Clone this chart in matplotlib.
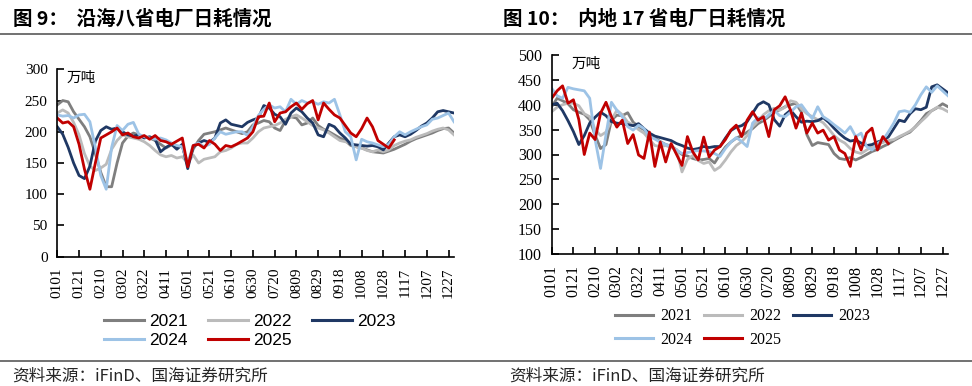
import numpy as np
import matplotlib
matplotlib.use('Agg')
import matplotlib.pyplot as plt
import pandas as pd
from matplotlib.lines import Line2D

CJK = ['Noto Sans CJK SC', 'DejaVu Sans']
plt.rcParams['font.family'] = ['Liberation Serif', 'DejaVu Sans']

years = ['2021', '2022', '2023', '2024', '2025']
colors = ['#7F7F7F', '#BBBBBB', '#1F3864', '#9DC3E6', '#C00000']
tick_labels = ['0101', '0121', '0210', '0302', '0322', '0411', '0501', '0521', '0610',
               '0630', '0720', '0809', '0829', '0918', '1008', '1028', '1117', '1207', '1227']

# sample days (day of year, 5-day spacing)
days = np.arange(0, 366, 5)

# ---- coastal eight provinces (万吨) ----
coast_2021 = [243,250,248,232,220,208,192,165,135,112, 112,150,182,193,198,195,192,190,186,180,
              174,179,176,177,147,172,186,196,198,200, 203,206,203,200,197,200,211,214,218,216,
              206,202,218,224,222,211,214,222,210,204, 200,195,190,186,178,176,174,171,168,167,
              166,169,172,176,180,185,189,192,195,198, 202,205,206,198]
coast_2022 = [230,235,230,215,195,165,145,138,142,148, 172,186,195,192,190,188,184,178,170,163,
              160,162,158,160,150,163,150,156,158,160, 168,170,174,180,182,182,190,200,206,208,
              210,214,220,224,227,222,216,210,206,203, 198,192,186,184,182,176,174,170,168,171,
              168,171,178,182,185,187,191,194,197,201, 204,206,203,195]
coast_2023 = [208,196,175,150,130,125,145,185,202,208, 204,206,200,195,193,195,190,192,188,168,
              175,180,172,180,141,176,182,186,183,190, 214,219,212,210,208,215,219,222,242,238,
              228,224,212,230,238,232,222,214,195,192, 212,208,198,190,180,179,178,177,178,176,
              171,182,192,195,192,196,202,209,214,222, 232,234,232,230]
coast_2024 = [227,225,226,222,227,228,216,175,130,108, 175,210,202,212,215,196,192,190,188,190,
              187,182,178,176,150,178,182,176,180,190, 200,196,198,200,200,194,208,226,236,243,
              238,240,232,252,244,250,246,248,244,248, 246,252,227,200,192,155,188,184,182,179,
              176,180,192,200,195,200,204,208,211,220, 222,226,230,216]
coast_2025 = [222,214,216,208,180,140,108,150,190,195, 200,206,195,198,192,190,194,188,194,186,
              184,180,185,190,144,178,180,174,186,180, 170,178,176,180,185,190,200,224,225,246,
              216,230,232,240,246,236,245,250,219,246, 236,227,222,210,198,192,205,222,208,186,
              180,174,187]

# ---- inland 17 provinces (万吨) ----
inland_2021 = [396,413,408,402,390,385,381,370,339,312, 320,369,379,378,384,365,356,350,336,333,
               326,320,317,309,300,297,292,289,290,292, 283,300,315,325,333,338,345,352,362,368,
               376,385,390,396,400,403,385,340,318,324, 322,320,302,292,290,294,289,294,300,306,
               310,316,321,328,334,340,345,356,368,382, 388,394,402,396]
inland_2022 = [386,395,400,403,403,398,382,376,350,338, 345,369,389,380,365,360,350,343,330,318,
               316,318,314,310,265,290,298,288,282,285, 268,275,289,305,318,326,338,356,367,380,
               388,393,389,395,408,405,392,382,376,370, 364,352,338,329,323,312,305,302,309,316,
               321,324,328,330,336,341,347,355,366,376, 388,395,392,386]
inland_2023 = [400,403,388,368,346,320,338,363,375,385, 378,366,363,362,360,358,362,352,343,337,
               334,331,328,322,318,313,310,312,316,314, 316,316,333,348,355,358,366,383,400,406,
               400,370,357,380,389,376,365,367,366,368, 374,365,353,342,333,327,329,323,318,320,
               325,329,335,352,369,366,382,392,390,395, 436,440,432,424]
inland_2024 = [433,418,413,435,432,430,428,413,330,272, 340,405,389,376,356,349,359,352,336,331,
               325,320,316,309,302,304,306,308,307,306, 302,296,312,325,334,326,316,363,374,370,
               380,389,378,376,385,396,400,385,372,396, 376,369,360,352,343,356,336,343,316,309,
               322,329,345,363,386,388,385,400,420,436, 425,438,428,418]
inland_2025 = [413,428,438,403,410,370,300,343,330,383, 405,376,355,369,322,340,299,292,345,276,
               325,285,322,300,278,336,305,289,335,295, 309,316,330,349,359,336,369,386,369,376,
               336,390,398,416,389,353,383,343,363,343, 349,329,336,309,302,276,336,309,343,353,
               309,336,322]

coast = [coast_2021, coast_2022, coast_2023, coast_2024, coast_2025]
inland = [inland_2021, inland_2022, inland_2023, inland_2024, inland_2025]

tick_pos = [pd.Timestamp('2023-' + t[:2] + '-' + t[2:]).dayofyear - 1 for t in tick_labels]

W, H = 972, 386
fig = plt.figure(figsize=(W / 100, H / 100), dpi=100)
ax1 = fig.add_axes([57.3 / W, 1 - 256.7 / H, 396.7 / W, 187.4 / H])
ax2 = fig.add_axes([551.7 / W, 1 - 254 / H, 396.3 / W, 199 / H])


def style(ax, ylim, ystep, fs):
    for s in ['top', 'right']:
        ax.spines[s].set_visible(False)
    for s in ['left', 'bottom']:
        ax.spines[s].set_linewidth(1.2)
        ax.spines[s].set_color('black')
    ax.set_xlim(0, 365)
    ax.set_ylim(*ylim)
    ax.set_yticks(np.arange(ylim[0], ylim[1] + 1, ystep))
    ax.set_xticks(tick_pos)
    ax.set_xticklabels(tick_labels, rotation=90)
    ax.tick_params(axis='both', direction='in', length=5, width=1.2, labelsize=fs, colors='black')
    ax.tick_params(axis='x', pad=8)
    ax.tick_params(axis='y', pad=7)


lines1 = []
for y, c, vals in zip(years, colors, coast):
    l, = ax1.plot(days[:len(vals)], vals, color=c, lw=2.0, label=y, solid_joinstyle='round')
    lines1.append(l)
lines2 = []
for y, c, vals in zip(years, colors, inland):
    l, = ax2.plot(days[:len(vals)], vals, color=c, lw=2.0, label=y, solid_joinstyle='round')
    lines2.append(l)

style(ax1, (0, 300), 50, 11)
style(ax2, (100, 500), 50, 11.5)

ax1.text(0.024, 0.953, '万吨', transform=ax1.transAxes, fontsize=10.5, family=CJK, va='center', ha='left')
ax2.text(0.05, 0.955, '万吨', transform=ax2.transAxes, fontsize=10.5, family=CJK, va='center', ha='left')

order = [0, 3, 1, 4, 2]
leg1 = fig.legend([lines1[i] for i in order], [years[i] for i in order], ncol=3,
                  loc='center', bbox_to_anchor=(250 / W, 1 - 331 / H), frameon=False,
                  prop={'family': 'Liberation Sans', 'size': 12.5}, handlelength=2.3,
                  handletextpad=0.3, columnspacing=1.15, labelspacing=0.22, borderpad=0)
for h in leg1.legend_handles:
    h.set_linewidth(2.2)
leg2 = fig.legend([lines2[i] for i in order], [years[i] for i in order], ncol=3,
                  loc='center', bbox_to_anchor=(742.5 / W, 1 - 328 / H), frameon=False,
                  prop={'family': 'Liberation Serif', 'size': 11.5}, handlelength=2.4,
                  handletextpad=0.45, columnspacing=0.7, labelspacing=0.46, borderpad=0)
for h in leg2.legend_handles:
    h.set_linewidth(2.2)

fig.text(12.7 / W, 1 - 19 / H, '图 9：  沿海八省电厂日耗情况', fontsize=14, fontweight='bold',
         family=CJK, va='center', ha='left')
fig.text(503 / W, 1 - 19 / H, '图 10：  内地 17 省电厂日耗情况', fontsize=14, fontweight='bold',
         family=CJK, va='center', ha='left')

fig.add_artist(Line2D([0, 1], [1 - 33.5 / H] * 2, color='#595959', lw=1.2, transform=fig.transFigure))
fig.add_artist(Line2D([0, 1], [1 - 361 / H] * 2, color='#595959', lw=1.2, transform=fig.transFigure))

fig.text(12 / W, 1 - 376 / H, '资料来源：iFinD、国海证券研究所', fontsize=12, color='#262626',
         family=CJK, va='center', ha='left')
fig.text(509 / W, 1 - 376 / H, '资料来源：iFinD、国海证券研究所', fontsize=12, color='#262626',
         family=CJK, va='center', ha='left')

fig.savefig('out.png', dpi=100)
